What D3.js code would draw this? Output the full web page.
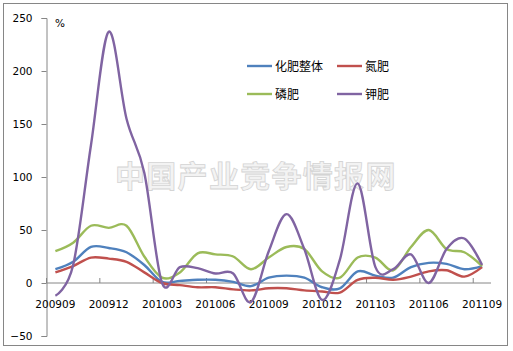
<!DOCTYPE html>
<html lang="zh">
<head>
    <meta charset="UTF-8">
    <title>化肥进口增速</title>
    <style>
        html, body {
            margin: 0px;
            padding: 0px;
            background-color: white;
        }

        .axis text {
            font-family: 'DejaVu Sans', sans-serif;
            font-size: 10.5px;
            fill: #000;
        }

        .legend text {
            font-family: 'Noto Sans CJK SC', sans-serif;
            font-size: 12px;
            fill: #000;
        }

        .line {
            fill: none;
            stroke-width: 2.4px;
        }
    </style>
</head>
<body>
    <div id="vis"></div>
    <script src="https://d3js.org/d3.v7.min.js"></script>
    <script>

        // months, 200909 .. 201109
        var months = ["200909", "200910", "200911", "200912", "201001", "201002", "201003",
                      "201004", "201005", "201006", "201007", "201008", "201009", "201010",
                      "201011", "201012", "201101", "201102", "201103", "201104", "201105",
                      "201106", "201107", "201108", "201109"];

        var seriesNames = ["化肥整体", "氮肥", "磷肥", "钾肥"];
        var seriesColors = ["#4F81BD", "#C0504D", "#9BBB59", "#8064A2"];

        var total = [13, 20, 34, 33, 29, 17, 1, 2, 3, 3, 1, -3, 5, 7, 5, -4, -5, 11, 7, 5, 15, 19, 18, 13, 16];
        var nitrogen = [10, 16, 24, 23, 20, 10, 0, -2, -4, -4, -6, -7, -5, -5, -7, -8, -9, 3, 5, 3, 6, 11, 12, 6, 15];
        var phosphate = [30, 38, 54, 52, 54, 25, 5, 10, 28, 27, 25, 13, 24, 34, 32, 11, 5, 24, 24, 12, 34, 50, 32, 29, 16];
        var potash = [-12, 17, 130, 237, 155, 104, 0, 15, 14, 9, 9, -18, 30, 65, 32, -16, 22, 94, 15, 13, 27, 0, 32, 42, 17];

        var yTicks = [-50, 0, 50, 100, 150, 200, 250];

        var allSeries = [total, nitrogen, phosphate, potash];

        var width = 513;
        var height = 351;

        var svg = d3.select("#vis")
            .append("svg")
            .attr("width", width)
            .attr("height", height);

        // outer chart border
        svg.append("rect")
            .attr("x", 3.5)
            .attr("y", 3.5)
            .attr("width", 504)
            .attr("height", 342)
            .attr("fill", "white")
            .attr("stroke", "#868686");

        // watermark
        svg.append("text")
            .attr("x", 115)
            .attr("y", 187)
            .attr("font-family", "'Noto Sans CJK SC', sans-serif")
            .attr("font-size", "30px")
            .attr("font-weight", "bold")
            .attr("letter-spacing", "1.3px")
            .attr("fill", "#f3f3f3")
            .attr("stroke", "#d4d4d4")
            .attr("stroke-width", 0.8)
            .text("中国产业竞争情报网");

        var plotLeft = 46.5;
        var plotRight = 491;

        var x_scale = d3.scaleBand()
            .domain(months)
            .range([plotLeft, plotRight]);

        var y_scale = d3.scaleLinear()
            .domain([-50, 250])
            .range([336, 18]);

        function cx(i) {
            return x_scale(months[i]) + x_scale.bandwidth() / 2;
        }

        // y axis
        var y_axis = d3.axisLeft(y_scale)
            .tickValues(yTicks)
            .tickSize(5)
            .tickPadding(9);

        var yg = svg.append("g")
            .attr("class", "axis")
            .attr("transform", "translate(" + plotLeft + ",0)")
            .call(y_axis);
        yg.selectAll("path, line").attr("stroke", "#868686");

        // x axis sits on zero, ticks at every third category boundary
        var xg = svg.append("g")
            .attr("class", "axis")
            .attr("transform", "translate(0," + y_scale(0) + ")");

        xg.append("line")
            .attr("x1", plotLeft)
            .attr("x2", plotRight)
            .attr("stroke", "#868686");

        xg.selectAll(".tick")
            .data(months.filter(function(d, i) { return i % 3 == 0; }))
            .enter()
            .append("line")
            .attr("class", "tick")
            .attr("x1", function(d) { return x_scale(d); })
            .attr("x2", function(d) { return x_scale(d); })
            .attr("y1", 0)
            .attr("y2", -5)
            .attr("stroke", "#868686");

        xg.selectAll(".lbl")
            .data(months.filter(function(d, i) { return i % 3 == 0; }))
            .enter()
            .append("text")
            .attr("class", "lbl")
            .attr("x", function(d) { return x_scale(d) + x_scale.bandwidth() / 2; })
            .attr("y", 25)
            .attr("text-anchor", "middle")
            .text(function(d) { return d; });

        svg.append("text")
            .attr("class", "axis")
            .attr("x", 55)
            .attr("y", 27)
            .attr("font-family", "'DejaVu Sans', sans-serif")
            .attr("font-size", "10.5px")
            .text("%");

        // smoothed lines
        var line = d3.line()
            .x(function(d, i) { return cx(i); })
            .y(function(d) { return y_scale(d); })
            .curve(d3.curveCardinal.tension(0));

        svg.selectAll(".line")
            .data(allSeries)
            .enter()
            .append("path")
            .attr("class", "line")
            .attr("stroke", function(d, i) { return seriesColors[i]; })
            .attr("d", line);

        // legend, two rows of two
        var legend = svg.append("g").attr("class", "legend");

        var items = legend.selectAll("g")
            .data(seriesNames)
            .enter()
            .append("g")
            .attr("transform", function(d, i) {
                return "translate(" + (247 + (i % 2) * 90) + "," + (66 + Math.floor(i / 2) * 28) + ")";
            });

        items.append("line")
            .attr("x1", 0)
            .attr("x2", 25)
            .attr("stroke-width", 2.4)
            .attr("stroke", function(d, i) { return seriesColors[i]; });

        items.append("text")
            .attr("x", 28)
            .attr("y", 5)
            .text(function(d) { return d; });

    </script>
</body>
</html>
